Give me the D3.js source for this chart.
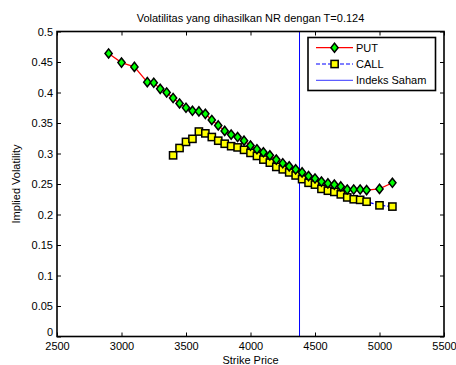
<!DOCTYPE html>
<html>
<head>
<meta charset="utf-8">
<script src="https://cdn.jsdelivr.net/npm/d3@7"></script>
<style>
  body { margin: 0; background: #fff; }
  svg text { font-family: "Liberation Sans", Arial, sans-serif; }
</style>
</head>
<body>
<div class="container"></div>
<script>
// strike prices and implied vol
const putStrikes = [2900, 3000, 3100, 3200, 3250, 3300, 3350, 3400, 3450, 3500, 3550, 3600, 3650, 3700, 3750,
    3800, 3850, 3900, 3950, 4000, 4050, 4100, 4150, 4200, 4250, 4300, 4350, 4400, 4450, 4500, 4550, 4600,
    4650, 4700, 4750, 4800, 4850, 4900, 5000, 5100]
const putVol = [0.464, 0.449, 0.442, 0.417, 0.416, 0.406, 0.400, 0.391, 0.382, 0.375, 0.370, 0.369, 0.365, 0.355, 0.346,
    0.337, 0.331, 0.327, 0.321, 0.313, 0.307, 0.302, 0.297, 0.290, 0.284, 0.279, 0.274, 0.269, 0.263, 0.259, 0.254, 0.251,
    0.249, 0.246, 0.241, 0.241, 0.241, 0.240, 0.242, 0.252]

const callStrikes = [3400, 3450, 3500, 3550, 3600, 3650, 3700, 3750, 3800, 3850, 3900, 3950, 4000, 4050, 4100,
    4150, 4200, 4250, 4300, 4350, 4400, 4450, 4500, 4550, 4600, 4650, 4700, 4750, 4800, 4850, 4900, 5000, 5100]
const callVol = [0.297, 0.309, 0.319, 0.324, 0.336, 0.333, 0.327, 0.321, 0.316, 0.312, 0.310, 0.306, 0.301, 0.296, 0.290,
    0.285, 0.278, 0.274, 0.269, 0.264, 0.258, 0.252, 0.249, 0.242, 0.239, 0.237, 0.233, 0.228, 0.225, 0.224, 0.221, 0.215, 0.213]

const indeksSaham = 4380
const xTicks = [2500, 3000, 3500, 4000, 4500, 5000, 5500]
const yTicks = [0, 0.05, 0.1, 0.15, 0.2, 0.25, 0.3, 0.35, 0.4, 0.45, 0.5]
const legendLabels = ["PUT", "CALL", "Indeks Saham"]

const width = 456
const height = 365
const margin = {"top": 31.5, "right": 12, "bottom": 28.5, "left": 57}
const w = width - margin.left - margin.right
const h = height - margin.top - margin.bottom

const svg = d3.select(".container")
    .append("svg")
    .attr("width", width)
    .attr("height", height)

const g = svg.append("g")
    .attr("transform", `translate(${margin.left}, ${margin.top})`)

const x = d3.scaleLinear().domain([2500, 5500]).range([0, w])
const y = d3.scaleLinear().domain([0, 0.5]).range([h, 0])

// axes (ticks point inward, box on all sides)
const fmt = d => d3.format("")(+d.toFixed(2))
g.append("g")
    .attr("transform", `translate(0, ${h})`)
    .call(d3.axisBottom(x).tickValues(xTicks).tickSizeInner(-4).tickSizeOuter(0).tickPadding(6).tickFormat(d3.format("d")))
const yAxis = g.append("g")
    .call(d3.axisLeft(y).tickValues(yTicks).tickSizeInner(-4).tickSizeOuter(0).tickPadding(4).tickFormat(fmt))
g.append("g")
    .call(d3.axisTop(x).tickValues(xTicks).tickSizeInner(-4).tickSizeOuter(0).tickFormat(""))
g.append("g")
    .attr("transform", `translate(${w}, 0)`)
    .call(d3.axisRight(y).tickValues(yTicks).tickSizeInner(-4).tickSizeOuter(0).tickFormat(""))

g.selectAll(".domain").remove()
g.selectAll(".tick line").attr("stroke", "#000")
g.selectAll(".tick text").attr("fill", "#000").style("font-size", "11px")
// the zero label sits just above the 2500 label, as in the original
yAxis.selectAll(".tick text").filter(d => d == 0).attr("dy", "-0.05em")

// vertical line for the index
g.append("line")
    .attr("x1", x(indeksSaham)).attr("x2", x(indeksSaham))
    .attr("y1", 0).attr("y2", h)
    .attr("stroke", "#0000ff")
    .attr("stroke-width", 1)

const put = putStrikes.map((k, i) => ({k: k, v: putVol[i]}))
const call = callStrikes.map((k, i) => ({k: k, v: callVol[i]}))

const line = d3.line().x(d => x(d.k)).y(d => y(d.v))

g.append("path").datum(put)
    .attr("d", line)
    .attr("fill", "none")
    .attr("stroke", "#ff0000")
    .attr("stroke-width", 1.2)

g.append("path").datum(call)
    .attr("d", line)
    .attr("fill", "none")
    .attr("stroke", "#0000ff")
    .attr("stroke-width", 1.2)
    .attr("stroke-dasharray", "4,2")

const diamond = "M0,-4.6L3.6,0L0,4.6L-3.6,0Z"

g.selectAll(".call-pt")
    .data(call)
    .enter()
    .append("rect")
    .attr("class", "call-pt")
    .attr("x", d => x(d.k) - 3.6)
    .attr("y", d => y(d.v) - 3.6)
    .attr("width", 7.2)
    .attr("height", 7.2)
    .attr("fill", "#ffff00")
    .attr("stroke", "#000")
    .attr("stroke-width", 1.5)

g.selectAll(".put-pt")
    .data(put)
    .enter()
    .append("path")
    .attr("class", "put-pt")
    .attr("transform", d => `translate(${x(d.k)}, ${y(d.v)})`)
    .attr("d", diamond)
    .attr("fill", "#00ff00")
    .attr("stroke", "#000")
    .attr("stroke-width", 1.5)

// plot box
g.append("rect")
    .attr("width", w).attr("height", h)
    .attr("fill", "none")
    .attr("stroke", "#000")
    .attr("stroke-width", 1.6)

// title and axis labels
svg.append("text")
    .attr("x", margin.left + w / 2)
    .attr("y", 22)
    .attr("text-anchor", "middle")
    .style("font-size", "11px")
    .text("Volatilitas yang dihasilkan NR dengan T=0.124")

svg.append("text")
    .attr("x", margin.left + w / 2)
    .attr("y", 364)
    .attr("text-anchor", "middle")
    .style("font-size", "11px")
    .text("Strike Price")

svg.append("text")
    .attr("transform", `translate(20, ${margin.top + h / 2}) rotate(-90)`)
    .attr("text-anchor", "middle")
    .style("font-size", "11px")
    .text("Implied Volatility")

// legend
const legend = svg.append("g")
    .attr("transform", `translate(308, 37.5)`)

legend.append("rect")
    .attr("width", 127.5).attr("height", 53)
    .attr("fill", "#fff")
    .attr("stroke", "#000")
    .attr("stroke-width", 1.6)

const items = legend.selectAll(".item")
    .data(legendLabels)
    .enter()
    .append("g")
    .attr("transform", (d, i) => `translate(0, ${10.2 + i * 16.3})`)

items.append("line")
    .attr("x1", 8).attr("x2", 45)
    .attr("stroke", (d, i) => i == 0 ? "#ff0000" : "#0000ff")
    .attr("stroke-width", (d, i) => i == 2 ? 0.8 : 1.2)
    .attr("stroke-dasharray", (d, i) => i == 1 ? "4,2" : null)

items.filter((d, i) => i == 0).append("path")
    .attr("transform", "translate(26.5, 0)")
    .attr("d", diamond)
    .attr("fill", "#00ff00")
    .attr("stroke", "#000")
    .attr("stroke-width", 1.5)

items.filter((d, i) => i == 1).append("rect")
    .attr("x", 23).attr("y", -3.6)
    .attr("width", 7.2).attr("height", 7.2)
    .attr("fill", "#ffff00")
    .attr("stroke", "#000")
    .attr("stroke-width", 1.5)

items.append("text")
    .attr("x", 48)
    .attr("y", 4)
    .style("font-size", "11px")
    .text(d => d)
</script>
</body>
</html>
